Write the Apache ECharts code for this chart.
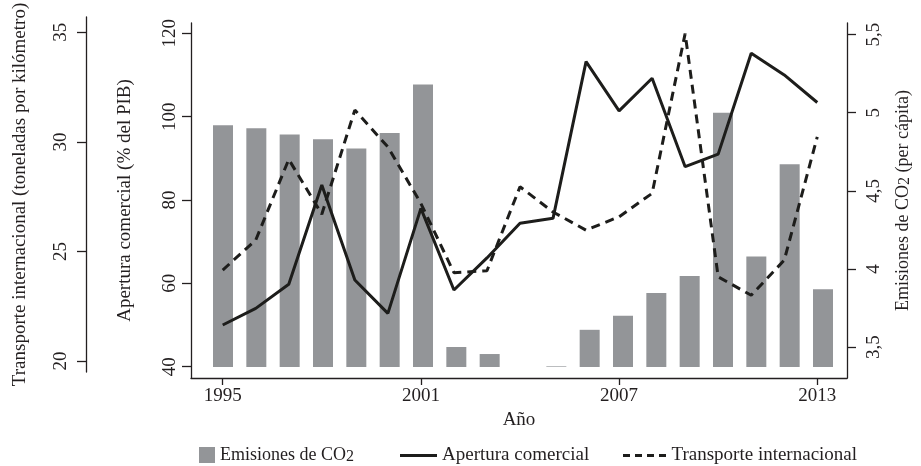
<!DOCTYPE html>
<html>
<head>
<meta charset="utf-8">
<script src="https://cdn.jsdelivr.net/npm/echarts@6/dist/echarts.min.js"></script>
<style>
html,body{margin:0;padding:0;background:#fff;}
#chart{width:921px;height:466px;}
</style>
</head>
<body>
<div id="chart"></div>
<script>
const years = [1995,1996,1997,1998,1999,2000,2001,2002,2003,2004,2005,2006,2007,2008,2009,2010,2011,2012,2013];
const co2 = [4.92,4.90,4.86,4.83,4.77,4.87,5.18,3.50,3.455,null,3.376,3.61,3.70,3.845,3.955,5.00,4.08,4.67,3.87];
const apertura = [50.0,54.0,59.8,83.6,60.8,52.8,78.0,58.4,66.1,74.4,75.6,113.2,101.4,109.2,88.0,91.0,115.2,110.0,103.4];
const transporte = [24.15,25.52,29.2,26.7,31.45,29.77,27.19,24.03,24.12,27.95,26.8,25.97,26.58,27.65,34.94,23.84,23.0,24.6,30.23];
const xTicks = [1995,2001,2007,2013];
const aperturaTicks = [40,60,80,100,120];
const transporteTicks = [20,25,30,35];
const co2Ticks = [3.5,4,4.5,5,5.5];

const FONT = 'Liberation Serif';
const INK = '#231f20';
const BAR = '#939598';
const LINE = '#1d1d1b';
const FS = 19;

const axisLineStyle = {color: INK, width: 1.3};
const labelStyle = {fontFamily: FONT, fontSize: FS, color: INK};
const nameStyleBase = {fontFamily: FONT, fontSize: FS, color: INK};
const subRich = {t:{fontFamily:FONT,fontSize:18,color:INK}, s:{fontFamily:FONT,fontSize:16,color:INK,padding:[4,0,0,0]}};

function pairs(vals){
  const out = [];
  years.forEach((y,i)=>{ if (vals[i] !== null) out.push([y, vals[i]]); });
  return out;
}

const chart = echarts.init(document.getElementById('chart'), null, {renderer:'canvas'});
const option = {
  backgroundColor: '#fff',
  animation: false,
  grid: [
    {left:191, right:68, top:23, bottom:88},
    {left:191, right:68, top:23, bottom:99},
    {left:86, width:1, top:17, bottom:94}
  ],
  xAxis: [
    {gridIndex:0, type:'value', min:1994.04, max:2013.9,
     axisLine:{show:true, onZero:false, lineStyle:axisLineStyle},
     axisTick:{show:true, customValues:xTicks, length:7, lineStyle:axisLineStyle},
     axisLabel:{customValues:xTicks, margin:9, ...labelStyle, formatter: v => String(v)},
     splitLine:{show:false},
     name:'Año', nameLocation:'middle', nameGap:24, nameTextStyle:nameStyleBase},
    {gridIndex:1, type:'value', min:1994.04, max:2013.9, show:false},
    {gridIndex:2, type:'value', min:0, max:1, show:false}
  ],
  yAxis: [
    {gridIndex:0, type:'value', position:'left', min:37.29, max:122.47,
     axisLine:{show:true, lineStyle:axisLineStyle},
     axisTick:{show:true, customValues:aperturaTicks, length:9, lineStyle:axisLineStyle},
     axisLabel:{customValues:aperturaTicks, rotate:90, margin:11, ...labelStyle},
     splitLine:{show:false},
     name:'Apertura comercial (% del PIB)', nameLocation:'middle', nameGap:56, nameTextStyle:nameStyleBase},
    {gridIndex:0, type:'value', min:19.224, max:35.424, show:false},
    {gridIndex:0, type:'value', position:'right', min:3.3016, max:5.5736,
     axisLine:{show:true, lineStyle:axisLineStyle},
     axisTick:{show:true, customValues:co2Ticks, length:9, lineStyle:axisLineStyle},
     axisLabel:{customValues:co2Ticks, rotate:90, margin:18, ...labelStyle,
       formatter: v => String(v).replace('.', ',')},
     splitLine:{show:false},
     name:'{t|Emisiones de CO}{s|2}{t| (per cápita)}', nameLocation:'middle', nameGap:46,
     nameTextStyle:{...nameStyleBase, fontSize:18, rich:subRich}},
    {gridIndex:1, type:'value', min:3.372, max:5.5736, show:false},
    {gridIndex:2, type:'value', position:'left', min:19.50, max:35.70,
     axisLine:{show:true, lineStyle:axisLineStyle},
     axisTick:{show:true, customValues:transporteTicks, length:9, lineStyle:axisLineStyle},
     axisLabel:{customValues:transporteTicks, rotate:90, margin:15, ...labelStyle},
     splitLine:{show:false},
     name:'Transporte internacional (toneladas por kilómetro)', nameLocation:'middle', nameGap:56, nameTextStyle:nameStyleBase}
  ],
  legend: [
    {data:[{name:'Emisiones de CO2', icon:'rect'}], left:199, top:446, padding:0,
     itemWidth:16, itemHeight:16,
     formatter: () => '{t|Emisiones de CO}{s|2}',
     textStyle:{...labelStyle, fontSize:18, rich:subRich}},
    {data:[{name:'Apertura comercial', icon:'rect', itemStyle:{color:LINE}}], left:400, top:446, padding:0,
     itemWidth:37, itemHeight:3, textStyle:labelStyle},
    {data:[{name:'Transporte internacional', icon:'path://M0,0h7v3h-7z M12,0h7v3h-7z M24,0h7v3h-7z M36,0h7v3h-7z', itemStyle:{color:LINE}}],
     left:623, top:446, padding:0, itemWidth:44, itemHeight:3, textStyle:labelStyle}
  ],
  series: [
    {name:'Emisiones de CO2', type:'bar', xAxisIndex:1, yAxisIndex:3, barWidth:20,
     itemStyle:{color:BAR}, data: pairs(co2)},
    {name:'Apertura comercial', type:'line', xAxisIndex:0, yAxisIndex:0, symbol:'none',
     lineStyle:{color:LINE, width:3}, itemStyle:{color:LINE}, data: pairs(apertura)},
    {name:'Transporte internacional', type:'line', xAxisIndex:0, yAxisIndex:1, symbol:'none',
     lineStyle:{color:LINE, width:3, type:[9,6]}, itemStyle:{color:LINE}, data: pairs(transporte)}
  ]
};
chart.setOption(option);
</script>
</body>
</html>
